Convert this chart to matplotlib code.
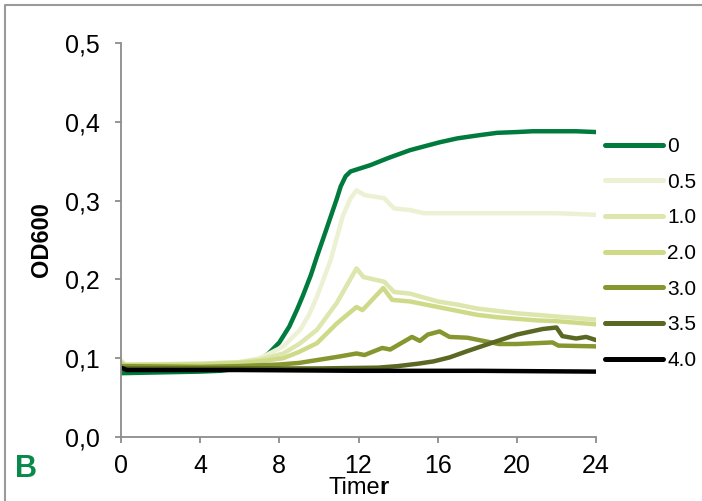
import matplotlib
matplotlib.use("Agg")
import matplotlib.pyplot as plt
from matplotlib.lines import Line2D
from matplotlib.ticker import FuncFormatter

plt.rcParams['font.family'] = ['Liberation Sans', 'DejaVu Sans']

# OD600 growth curves
labels = ['0', '0.5', '1.0', '2.0', '3.0', '3.5', '4.0']
colors = ['#007a3d', '#ecf1d4', '#dde6ad', '#cfda88', '#87962e', '#5a6823', '#000000']

t_0 = [0, 2, 4, 5, 6, 6.5, 7, 7.5, 8, 8.5, 8.9, 9.2, 9.6, 9.9, 10.3, 10.6, 10.9, 11.1, 11.35, 11.6, 12.6, 13.5, 14.6, 15.5, 16.1, 17, 18.1, 19, 20, 20.8, 22, 23, 24]
v_0 = [0.081, 0.082, 0.083, 0.084, 0.087, 0.091, 0.097, 0.107, 0.12, 0.14, 0.162, 0.18, 0.206, 0.229, 0.258, 0.28, 0.302, 0.318, 0.331, 0.337, 0.345, 0.354, 0.364, 0.37, 0.374, 0.379, 0.383, 0.386, 0.387, 0.388, 0.388, 0.388, 0.387]

t_05 = [0, 0.2, 2, 4, 6, 7, 7.5, 8.2, 9.05, 9.5, 9.9, 10.6, 11.2, 11.6, 11.9, 12.3, 13.3, 13.8, 14.6, 15.3, 17, 20, 22, 24]
v_05 = [0.097, 0.092, 0.092, 0.093, 0.095, 0.1, 0.106, 0.115, 0.136, 0.155, 0.178, 0.225, 0.28, 0.303, 0.313, 0.307, 0.303, 0.29, 0.288, 0.284, 0.284, 0.284, 0.284, 0.282]

t_10 = [0, 0.2, 4, 6, 7, 8.2, 9, 9.9, 10.9, 11.9, 12.25, 13.3, 13.8, 14.6, 16, 17, 18, 19, 20, 21, 22, 22.5, 24]
v_10 = [0.096, 0.092, 0.093, 0.095, 0.098, 0.106, 0.118, 0.136, 0.17, 0.214, 0.203, 0.197, 0.184, 0.182, 0.172, 0.168, 0.163, 0.16, 0.157, 0.155, 0.153, 0.152, 0.149]

t_20 = [0, 0.2, 4, 6, 7, 8.2, 9, 9.9, 10.9, 11.9, 12.2, 13.25, 13.7, 14.6, 16, 17, 18, 19, 20, 21, 22, 23, 24]
v_20 = [0.094, 0.091, 0.092, 0.094, 0.096, 0.1, 0.108, 0.119, 0.144, 0.165, 0.161, 0.189, 0.174, 0.172, 0.165, 0.16, 0.155, 0.152, 0.15, 0.148, 0.147, 0.145, 0.143]

t_30 = [0, 4, 6, 8, 9, 10, 11, 11.9, 12.3, 13.2, 13.6, 14.7, 15.1, 15.5, 16.1, 16.6, 17.5, 18.5, 19.1, 20, 21.8, 22.1, 24]
v_30 = [0.09, 0.089, 0.09, 0.092, 0.094, 0.098, 0.102, 0.106, 0.104, 0.113, 0.111, 0.127, 0.122, 0.13, 0.134, 0.127, 0.126, 0.121, 0.118, 0.118, 0.12, 0.116, 0.115]

t_35 = [0, 6, 10, 13, 14, 15, 15.8, 16.6, 17.5, 18.8, 20, 21.3, 22, 22.3, 23, 23.5, 24]
v_35 = [0.087, 0.087, 0.087, 0.088, 0.09, 0.093, 0.096, 0.101, 0.109, 0.12, 0.13, 0.137, 0.139, 0.128, 0.125, 0.127, 0.123]

t_40 = [0, 0.3, 6, 12, 18, 24]
v_40 = [0.088, 0.085, 0.085, 0.084, 0.084, 0.083]

times = [t_0, t_05, t_10, t_20, t_30, t_35, t_40]
values = [v_0, v_05, v_10, v_20, v_30, v_35, v_40]

fig = plt.figure(figsize=(7.02, 5.01), dpi=100)
ax = fig.add_axes([121/702, 1-437/501, 475/702, 394/501])

for t, v, c in zip(times, values, colors):
    ax.plot(t, v, color=c, lw=3.2, solid_capstyle='round', solid_joinstyle='round')

ax.set_xlim(0, 24)
ax.set_ylim(0, 0.5)
ax.set_xticks(range(0, 25, 4))
ax.set_yticks([0, 0.1, 0.2, 0.3, 0.4, 0.5])
ax.yaxis.set_major_formatter(FuncFormatter(lambda y, p: ('%.1f' % y).replace('.', ',')))

for s in ['top', 'right']:
    ax.spines[s].set_visible(False)
for s in ['left', 'bottom']:
    ax.spines[s].set_color('#8c8c8c')
    ax.spines[s].set_linewidth(1.3)
ax.tick_params(colors='#8c8c8c', labelcolor='black', length=4.5, width=1.3,
               labelsize=18, pad=11)
ax.tick_params(axis='x', pad=8)

ax.set_ylabel('OD600', fontsize=17, fontweight='bold', labelpad=8)

# x label: "Time" normal, "r" bold
fig.text(380/702, 1-494/501, 'Time', fontsize=17, ha='right', va='baseline')
fig.text(379/702, 1-494/501, 'r', fontsize=17, fontweight='bold', ha='left', va='baseline')
fig.text(15/702, 1-477/501, 'B', fontsize=22, fontweight='bold', color='#0a8a4a')

handles = [Line2D([], [], color=c, lw=3.6, solid_capstyle='round') for c in colors]
fig.legend(handles, labels, loc='upper left', bbox_to_anchor=(605/702, 1-137/501),
           frameon=False, fontsize=15, handlelength=2.8, handletextpad=0.2,
           labelspacing=0.8, borderpad=0, borderaxespad=0)

# thin gray frame on the left and top of the picture
fig.add_artist(Line2D([5/702, 5/702, 1], [0, 1-5/501, 1-5/501],
                      transform=fig.transFigure, color='#9a9a9a', lw=1.5))

fig.savefig('out.png', dpi=100)
